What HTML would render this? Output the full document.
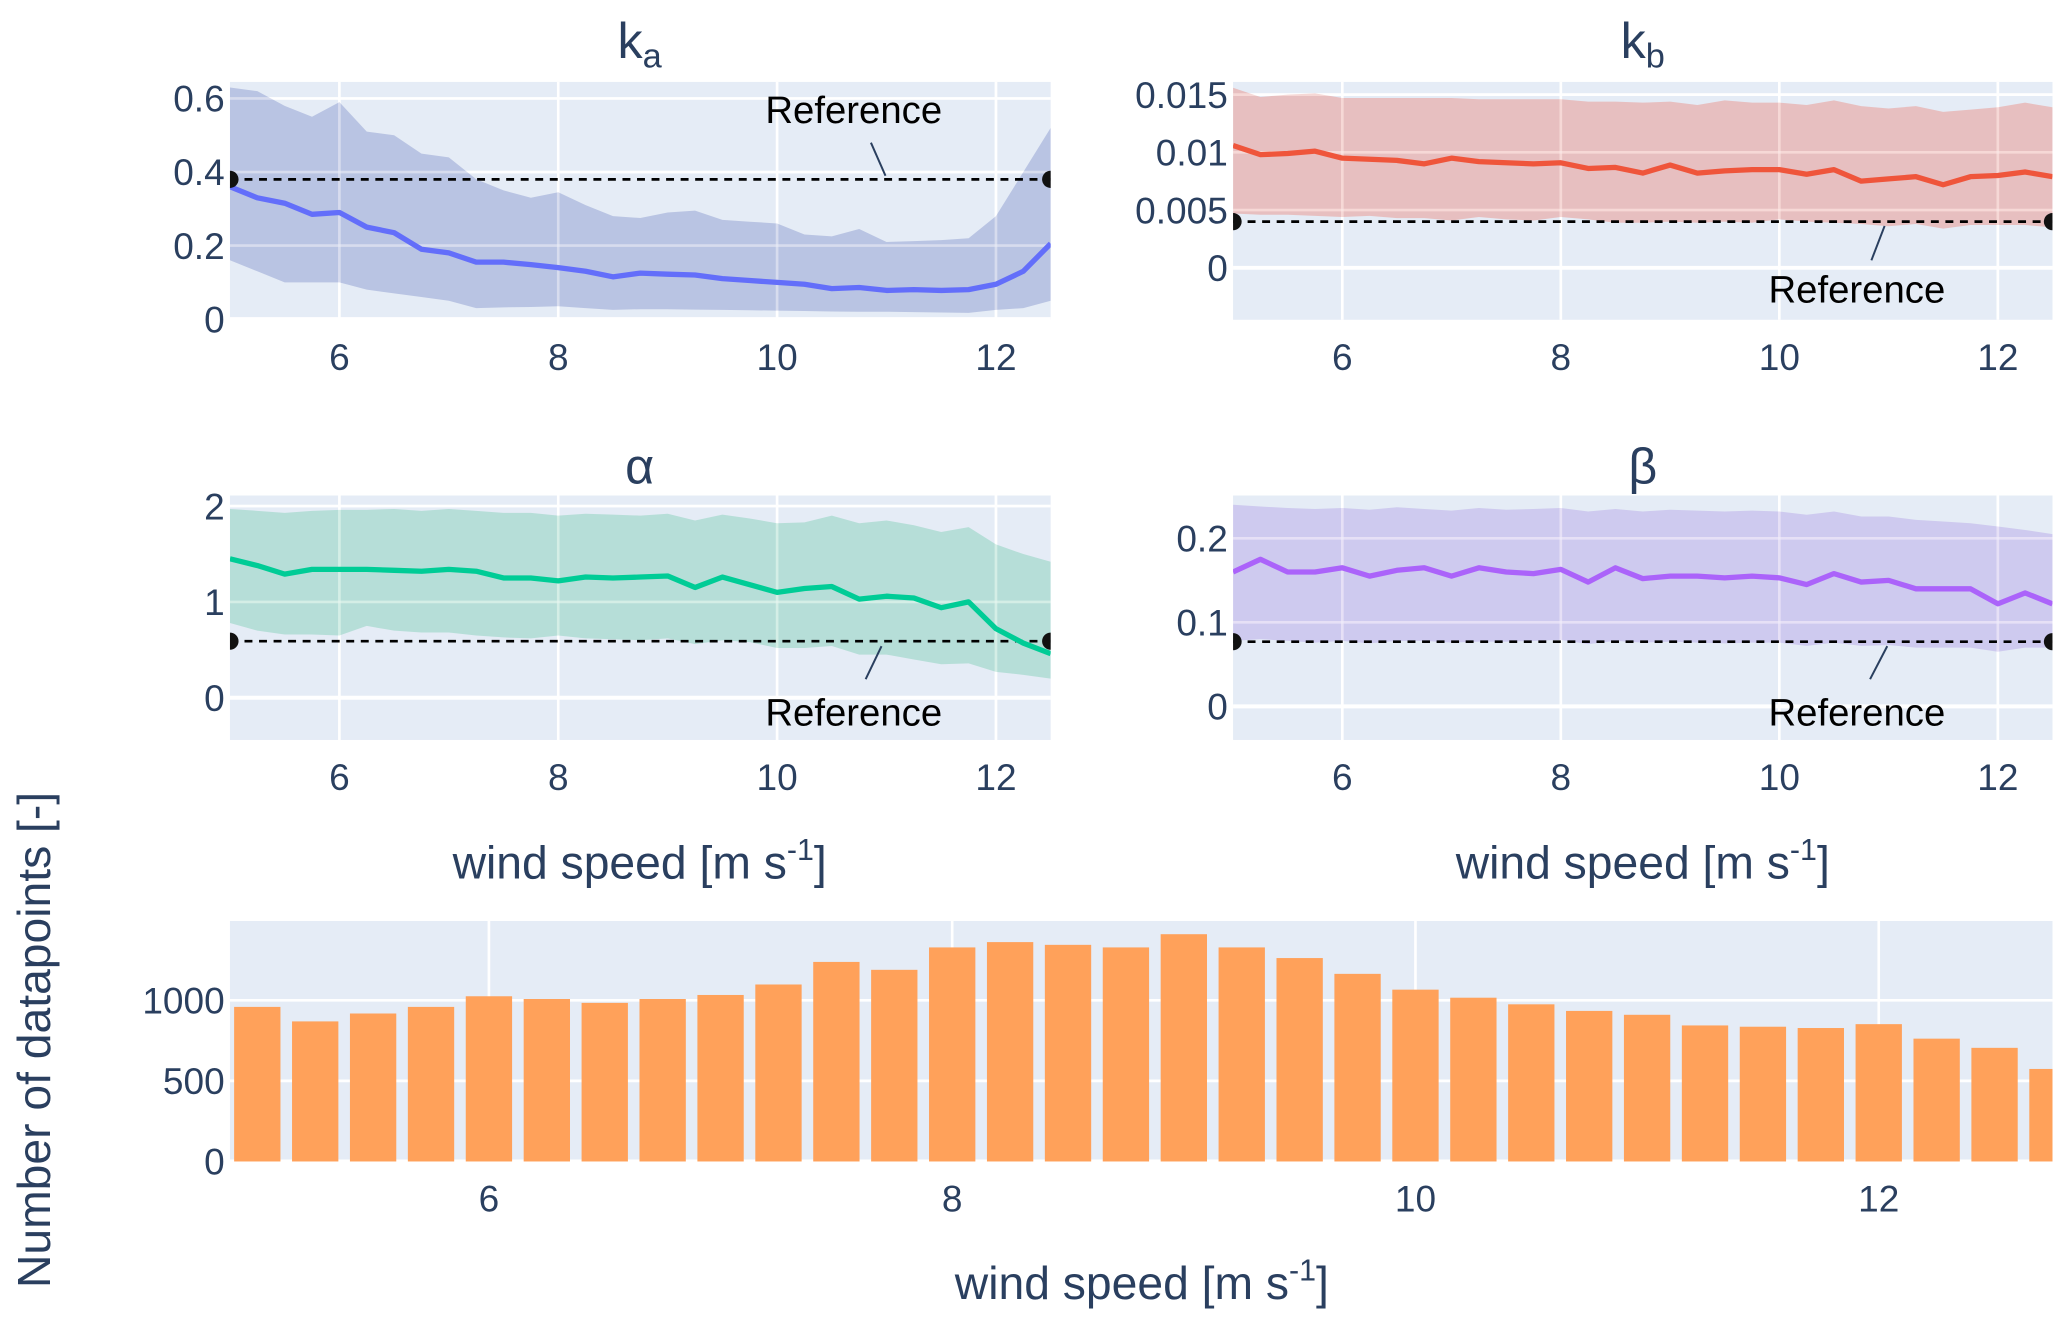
<!DOCTYPE html>
<html><head><meta charset="utf-8"><style>
html,body{margin:0;padding:0;background:#fff;width:2067px;height:1324px;overflow:hidden}
svg{display:block}
text{font-family:"Liberation Sans",Arial,sans-serif;fill:#2a3f5f}
</style></head><body>
<svg id="fig" width="2067" height="1324" viewBox="0 0 1564 1002" preserveAspectRatio="none" xmlns="http://www.w3.org/2000/svg"></svg>
<script>
const NS="http://www.w3.org/2000/svg";
const svg=document.getElementById('fig');
// ---- data ----
const windSpeeds=[5,5.25,5.5,5.75,6,6.25,6.5,6.75,7,7.25,7.5,7.75,8,8.25,8.5,8.75,9,9.25,9.5,9.75,10,10.25,10.5,10.75,11,11.25,11.5,11.75,12,12.25,12.5];
const kaMean=[0.36,0.33,0.315,0.285,0.29,0.25,0.235,0.19,0.18,0.155,0.155,0.148,0.14,0.13,0.115,0.125,0.122,0.12,0.11,0.105,0.10,0.095,0.083,0.086,0.078,0.08,0.078,0.08,0.095,0.13,0.205];
const kaUpper=[0.63,0.62,0.58,0.55,0.59,0.51,0.50,0.45,0.44,0.38,0.35,0.33,0.345,0.31,0.28,0.275,0.29,0.295,0.27,0.265,0.26,0.23,0.225,0.245,0.21,0.212,0.215,0.22,0.28,0.40,0.52];
const kaLower=[0.16,0.13,0.10,0.10,0.10,0.08,0.07,0.06,0.05,0.03,0.032,0.033,0.035,0.03,0.025,0.027,0.027,0.026,0.025,0.024,0.023,0.022,0.021,0.02,0.02,0.019,0.018,0.017,0.025,0.03,0.05];
const kbMean=[0.0106,0.0098,0.0099,0.0101,0.0095,0.0094,0.0093,0.0090,0.0095,0.0092,0.0091,0.0090,0.0091,0.0086,0.0087,0.0082,0.0089,0.0082,0.0084,0.0085,0.0085,0.0081,0.0085,0.0075,0.0077,0.0079,0.0072,0.0079,0.0080,0.0083,0.0079];
const kbUpper=[0.0156,0.0148,0.0150,0.0151,0.0147,0.0147,0.0147,0.0147,0.0147,0.0146,0.0146,0.0146,0.0146,0.0144,0.0144,0.0143,0.0144,0.0141,0.0145,0.0143,0.0143,0.0141,0.0145,0.0140,0.0138,0.0140,0.0135,0.0137,0.0139,0.0143,0.0139];
const kbLower=[0.0047,0.0046,0.0046,0.0045,0.0044,0.0045,0.0043,0.0043,0.0041,0.0044,0.0042,0.0041,0.0044,0.0042,0.0039,0.0039,0.0040,0.0039,0.0040,0.0039,0.0042,0.0040,0.0039,0.0038,0.0036,0.0038,0.0034,0.0037,0.0037,0.0037,0.0035];
const alphaMean=[1.45,1.38,1.29,1.34,1.34,1.34,1.33,1.32,1.34,1.32,1.25,1.25,1.22,1.26,1.25,1.26,1.27,1.15,1.26,1.18,1.10,1.14,1.16,1.03,1.06,1.04,0.94,1.00,0.72,0.57,0.46];
const alphaUpper=[1.97,1.95,1.93,1.95,1.96,1.96,1.97,1.95,1.97,1.95,1.93,1.93,1.90,1.92,1.91,1.90,1.92,1.85,1.91,1.87,1.82,1.83,1.90,1.82,1.85,1.80,1.73,1.78,1.60,1.50,1.42];
const alphaLower=[0.78,0.70,0.66,0.66,0.65,0.75,0.70,0.68,0.68,0.65,0.63,0.62,0.65,0.62,0.61,0.60,0.62,0.56,0.60,0.58,0.52,0.52,0.54,0.45,0.45,0.40,0.35,0.36,0.27,0.24,0.20];
const betaMean=[0.16,0.175,0.16,0.16,0.165,0.155,0.162,0.165,0.155,0.165,0.16,0.158,0.163,0.148,0.165,0.152,0.155,0.155,0.153,0.155,0.153,0.145,0.158,0.148,0.15,0.14,0.14,0.14,0.122,0.135,0.122];
const betaUpper=[0.24,0.238,0.236,0.235,0.236,0.234,0.237,0.235,0.233,0.236,0.234,0.235,0.236,0.232,0.235,0.232,0.234,0.233,0.232,0.233,0.232,0.228,0.232,0.226,0.226,0.222,0.22,0.218,0.214,0.21,0.205];
const betaLower=[0.078,0.08,0.078,0.076,0.078,0.075,0.078,0.078,0.076,0.077,0.077,0.078,0.079,0.074,0.078,0.076,0.077,0.076,0.075,0.076,0.076,0.072,0.076,0.072,0.073,0.07,0.07,0.07,0.065,0.07,0.07];
const refKa=0.38, refKb=0.004, refAlpha=0.59, refBeta=0.077;
const barSpeeds=[5,5.25,5.5,5.75,6,6.25,6.5,6.75,7,7.25,7.5,7.75,8,8.25,8.5,8.75,9,9.25,9.5,9.75,10,10.25,10.5,10.75,11,11.25,11.5,11.75,12,12.25,12.5,12.75];
const barCounts=[959,869,918,959,1025,1008,984,1008,1033,1098,1238,1189,1328,1361,1344,1328,1410,1328,1262,1164,1066,1016,975,934,910,844,836,828,852,762,705,574];
const xTicks=[6,8,10,12];

function el(tag,attrs,parent){const e=document.createElementNS(NS,tag);for(const k in attrs)e.setAttribute(k,attrs[k]);(parent||svg).appendChild(e);return e;}
function txt(x,y,s,size,anchor,parent,fill){const t=el('text',{x:x,y:y,'font-size':size,'text-anchor':anchor||'middle'},parent);if(fill)t.style.fill=fill;t.textContent=s;return t;}

function panel(o){
  const g=el('g',{});
  
  
  const X=v=>o.x0+(v-o.xmin)/(o.xmax-o.xmin)*(o.x1-o.x0);
  const Y=v=>o.y1-(v-o.ymin)/(o.ymax-o.ymin)*(o.y1-o.y0);
  const cid='clip-'+o.name;
  const cp=el('clipPath',{id:cid},g);el('rect',{x:o.x0,y:o.y0,width:o.x1-o.x0,height:o.y1-o.y0},cp);
  const bg=el('rect',{x:o.x0,y:o.y0,width:o.x1-o.x0,height:o.y1-o.y0,fill:'#E5ECF6'},g);
  
  
  o.xTicks.forEach(t=>{el('line',{x1:X(t),x2:X(t),y1:o.y0,y2:o.y1,stroke:'#fff','stroke-width':2},g);
    const l=txt(X(t),o.y1+38,String(t),28,'middle',g);
    
    });
  o.yTicks.forEach((t,i)=>{const lw=(t===0)?3:2;el('line',{x1:o.x0,x2:o.x1,y1:Y(t),y2:Y(t),stroke:'#fff','stroke-width':lw},g);
    const l=txt(o.x0-4,Y(t)+10,o.yLabels[i],28,'end',g);
    
    });
  const inner=el('g',{'clip-path':'url(#'+cid+')'},g);
  if(o.upper){
    let d='';o.xs.forEach((x,i)=>{d+=(i?'L':'M')+X(x).toFixed(1)+','+Y(o.upper[i]).toFixed(1);});
    for(let i=o.xs.length-1;i>=0;i--)d+='L'+X(o.xs[i]).toFixed(1)+','+Y(o.lower[i]).toFixed(1);
    const b=el('path',{d:d+'Z',fill:o.band,'fill-opacity':o.bandOp},inner);
    
    
    o.xTicks.forEach(t=>el('line',{x1:X(t),x2:X(t),y1:o.y0,y2:o.y1,stroke:'#fff','stroke-width':2,'stroke-opacity':0.3},inner));
    o.yTicks.forEach(t=>el('line',{x1:o.x0,x2:o.x1,y1:Y(t),y2:Y(t),stroke:'#fff','stroke-width':2,'stroke-opacity':0.3},inner));
    const ry=Y(o.ref);
    const rl=el('line',{x1:X(o.xmin),x2:X(o.xmax),y1:ry,y2:ry,stroke:'#000','stroke-width':2,'stroke-dasharray':'6,5'},inner);
    
    
    let m='';o.xs.forEach((x,i)=>{m+=(i?'L':'M')+X(x).toFixed(1)+','+Y(o.mean[i]).toFixed(1);});
    const ml=el('path',{d:m,fill:'none',stroke:o.color,'stroke-width':4,'stroke-linejoin':'round'},inner);
    
    
    [o.xmin,o.xmax].forEach(x=>{const c=el('circle',{cx:X(x),cy:ry,r:6.5,fill:'#111'},inner);
      
      });
    const a=o.ann;
    el('line',{x1:a.lx1,y1:a.ly1,x2:a.lx2,y2:a.ly2,stroke:'#2a3f5f','stroke-width':1.5},g);
    const at=txt(a.tx,a.ty,'Reference',29,'middle',g,'#000');
    
    
  }
  if(o.bars){
    const bw=(X(0.25)-X(0))*0.8;
    o.bars.forEach((v,i)=>{const r=el('rect',{x:X(o.barX[i])-bw/2,y:Y(v),width:bw,height:Y(0)-Y(v),fill:'#FFA15A'},inner);
      
      });
  }
  return g;
}

panel({name:'ka-panel',x0:174,x1:795,y0:62,y1:242,xmin:5,xmax:12.5,ymin:-0.0018,ymax:0.645,xTicks:xTicks,yTicks:[0,0.2,0.4,0.6],yLabels:['0','0.2','0.4','0.6'],
  xs:windSpeeds,mean:kaMean,upper:kaUpper,lower:kaLower,ref:refKa,color:'#636EFA',band:'#8E9BD0',bandOp:0.5,
  ann:{tx:646,ty:93,lx1:659,ly1:108,lx2:670,ly2:133}});
panel({name:'kb-panel',x0:933,x1:1553,y0:62,y1:242,xmin:5,xmax:12.5,ymin:-0.0045,ymax:0.0161,xTicks:xTicks,yTicks:[0,0.005,0.01,0.015],yLabels:['0','0.005','0.01','0.015'],
  xs:windSpeeds,mean:kbMean,upper:kbUpper,lower:kbLower,ref:refKb,color:'#EF553B',band:'#E99A93',bandOp:0.55,
  ann:{tx:1405,ty:229,lx1:1416,ly1:197,lx2:1426,ly2:171}});
panel({name:'alpha-panel',x0:174,x1:795,y0:375,y1:560,xmin:5,xmax:12.5,ymin:-0.44,ymax:2.11,xTicks:xTicks,yTicks:[0,1,2],yLabels:['0','1','2'],
  xs:windSpeeds,mean:alphaMean,upper:alphaUpper,lower:alphaLower,ref:refAlpha,color:'#00CC96',band:'#8FD3BF',bandOp:0.55,
  ann:{tx:646,ty:549,lx1:655,ly1:514,lx2:667,ly2:489}});
panel({name:'beta-panel',x0:933,x1:1553,y0:375,y1:560,xmin:5,xmax:12.5,ymin:-0.04,ymax:0.251,xTicks:xTicks,yTicks:[0,0.1,0.2],yLabels:['0','0.1','0.2'],
  xs:windSpeeds,mean:betaMean,upper:betaUpper,lower:betaLower,ref:refBeta,color:'#AB63FA',band:'#B8A8E8',bandOp:0.5,
  ann:{tx:1405,ty:549,lx1:1415,ly1:514,lx2:1428,ly2:489}});
panel({name:'count-panel',x0:174,x1:1553,y0:697,y1:879,xmin:4.882,xmax:12.75,ymin:0,ymax:1492,xTicks:xTicks,yTicks:[0,500,1000],yLabels:['0','500','1000'],
  bars:barCounts,barX:barSpeeds});

function title(x,y,main,sub,name){const t=el('text',{x:x,y:y,'font-size':38,'text-anchor':'middle'});
  
  
  t.appendChild(document.createTextNode(main));
  if(sub){const s=el('tspan',{'font-size':26,dy:7},t);s.textContent=sub;}}
title(484,44,'k','a','ka-title');
title(1243,44,'k','b','kb-title');
title(484,366,'α','','alpha-title');
title(1243,366,'β','','beta-title');

function xtitle(x,y,name){const t=el('text',{x:x,y:y,'font-size':35,'text-anchor':'middle'});
  
  
  t.appendChild(document.createTextNode('wind speed [m s'));
  const s=el('tspan',{'font-size':23,dy:-14},t);s.textContent='-1';
  const e=el('tspan',{dy:14},t);e.textContent=']';}
xtitle(484,665,'x-axis-title-left');
xtitle(1243,665,'x-axis-title-right');
xtitle(864,983,'x-axis-title-bottom');
const yt=el('text',{x:0,y:0,'font-size':35,'text-anchor':'middle',transform:'translate(38,787) rotate(-90)'});


yt.textContent='Number of datapoints [-]';
</script>
</body></html>
